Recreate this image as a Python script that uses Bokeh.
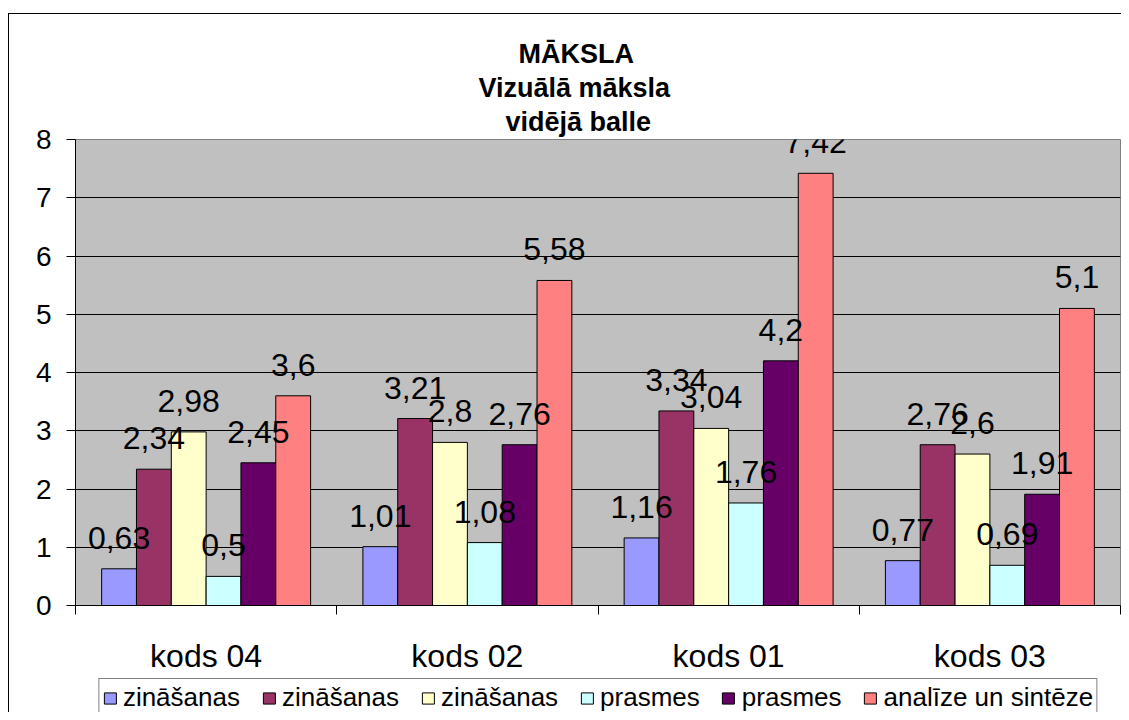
from bokeh.plotting import figure
from bokeh.layouts import column
from bokeh.models import (ColumnDataSource, FixedTicker, Legend, LegendItem,
                          LabelSet, Range1d, Title)
from bokeh.core.properties import value
from bokeh.embed import file_html
from bokeh.resources import INLINE

categories = ["kods 04", "kods 02", "kods 01", "kods 03"]
series_names = ["zināšanas", "zināšanas", "zināšanas", "prasmes", "prasmes",
                "analīze un sintēze"]
zinasanas_1 = [0.63, 1.01, 1.16, 0.77]
zinasanas_2 = [2.34, 3.21, 3.34, 2.76]
zinasanas_3 = [2.98, 2.8, 3.04, 2.6]
prasmes_1 = [0.5, 1.08, 1.76, 0.69]
prasmes_2 = [2.45, 2.76, 4.2, 1.91]
analize = [3.6, 5.58, 7.42, 5.1]
series_values = [zinasanas_1, zinasanas_2, zinasanas_3, prasmes_1, prasmes_2, analize]
colors = ["#9999FF", "#993366", "#FFFFCC", "#CCFFFF", "#660066", "#FF8080"]
y_ticks = [0, 1, 2, 3, 4, 5, 6, 7, 8]
title_lines = ["MĀKSLA", "Vizuālā māksla", "vidējā balle"]
title_offsets = [443, 403, 430]

FONT = "Liberation Sans"
n_cat = len(categories)
n_ser = len(series_values)
bar_w = 0.1333

p = figure(width=1121, height=677, output_backend="svg", toolbar_location=None,
           x_range=Range1d(0, n_cat), y_range=Range1d(0, 8),
           min_border_left=75, min_border_right=1, min_border_top=139,
           min_border_bottom=72)
p.styles = {"background": "linear-gradient(#000,#000) 8px 13px / 1px 100% no-repeat, "
                          "linear-gradient(#000,#000) 8px 13px / 100% 1px no-repeat"}
p.background_fill_color = "#C0C0C0"
p.border_fill_color = None
p.outline_line_color = "#808080"

# titles: p.title is the outermost line, added titles stack from the plot upwards
p.title.text = title_lines[0]
p.title.align = "left"
p.title.offset = title_offsets[0]
p.title.text_font = FONT
p.title.text_font_size = "27px"
p.title.text_font_style = "bold"
p.title.text_color = "black"
p.title.standoff = 4
for t, off, so in [(title_lines[2], title_offsets[2], 5),
                   (title_lines[1], title_offsets[1], 0)]:
    p.add_layout(Title(text=t, align="left", offset=off, text_font=FONT,
                       text_font_size="27px", text_font_style="bold",
                       text_color="black", standoff=so), "above")

for i, (vals, col) in enumerate(zip(series_values, colors)):
    xs = [j + 0.5 + (i - (n_ser - 1) / 2) * bar_w for j in range(n_cat)]
    src = ColumnDataSource(dict(x=xs, top=vals,
                                lab=[str(v).replace(".", ",") for v in vals]))
    p.vbar(x="x", top="top", width=bar_w, bottom=0, source=src,
           fill_color=col, line_color="black", line_width=1)
    ls = LabelSet(x="x", y="top", text="lab", source=src, text_align="center",
                  text_baseline="alphabetic", y_offset=20, text_font=value(FONT),
                  text_font_size="32px", text_color="black")
    p.add_layout(ls)

# axes
p.yaxis.ticker = FixedTicker(ticks=y_ticks)
p.yaxis.major_tick_out = 9
p.yaxis.major_tick_in = 0
p.yaxis.minor_tick_line_color = None
p.yaxis.axis_line_color = "black"
p.yaxis.major_tick_line_color = "black"
p.yaxis.major_label_text_font = FONT
p.yaxis.major_label_text_font_size = "28px"
p.yaxis.major_label_text_color = "black"
p.yaxis.major_label_standoff = 15

p.xaxis.ticker = FixedTicker(ticks=[j + 0.5 for j in range(n_cat)],
                             minor_ticks=list(range(n_cat + 1)))
p.xaxis.major_label_overrides = {j + 0.5: c for j, c in enumerate(categories)}
p.xaxis.major_tick_line_color = None
p.xaxis.major_tick_out = 0
p.xaxis.major_tick_in = 0
p.xaxis.minor_tick_out = 9
p.xaxis.minor_tick_in = 0
p.xaxis.minor_tick_line_color = "black"
p.xaxis.axis_line_color = "black"
p.xaxis.major_label_text_font = FONT
p.xaxis.major_label_text_font_size = "32px"
p.xaxis.major_label_text_color = "black"
p.xaxis.major_label_standoff = 23

p.xgrid.grid_line_color = None
p.ygrid.grid_line_color = "black"
p.ygrid.ticker = FixedTicker(ticks=y_ticks)

# legend strip (its plot area lines up with the chart's plot area)
p2 = figure(width=1121, height=35, output_backend="svg", toolbar_location=None,
            x_axis_location=None, y_axis_location=None,
            min_border_left=0, min_border_right=0, min_border_top=0,
            min_border_bottom=0, x_range=Range1d(0, 1), y_range=Range1d(0, 1))
p2.styles = {"background": "linear-gradient(#000,#000) 8px 0px / 1px 100% no-repeat"}
p2.background_fill_color = None
p2.border_fill_color = None
p2.outline_line_color = None
p2.grid.grid_line_color = None
p2.title.visible = False
legend_items = []
for name, col in zip(series_names, colors):
    # proxy renderer placed outside the visible range, used only for the legend swatch
    r = p2.vbar(x=[-5], top=[0], width=0.1, fill_color=col, line_color="black")
    legend_items.append(LegendItem(label=name, renderers=[r]))
legend = Legend(items=legend_items, orientation="horizontal", location="top_center",
                label_text_font=FONT, label_text_font_size="26px",
                label_text_color="black",
                glyph_width=15, glyph_height=14, label_standoff=6, spacing=21,
                padding=3, margin=1, border_line_color="black",
                border_line_width=1, background_fill_color="white")
p2.add_layout(legend)

layout = column(p, p2, spacing=0)
open("out.html", "w").write(file_html(layout, INLINE))
